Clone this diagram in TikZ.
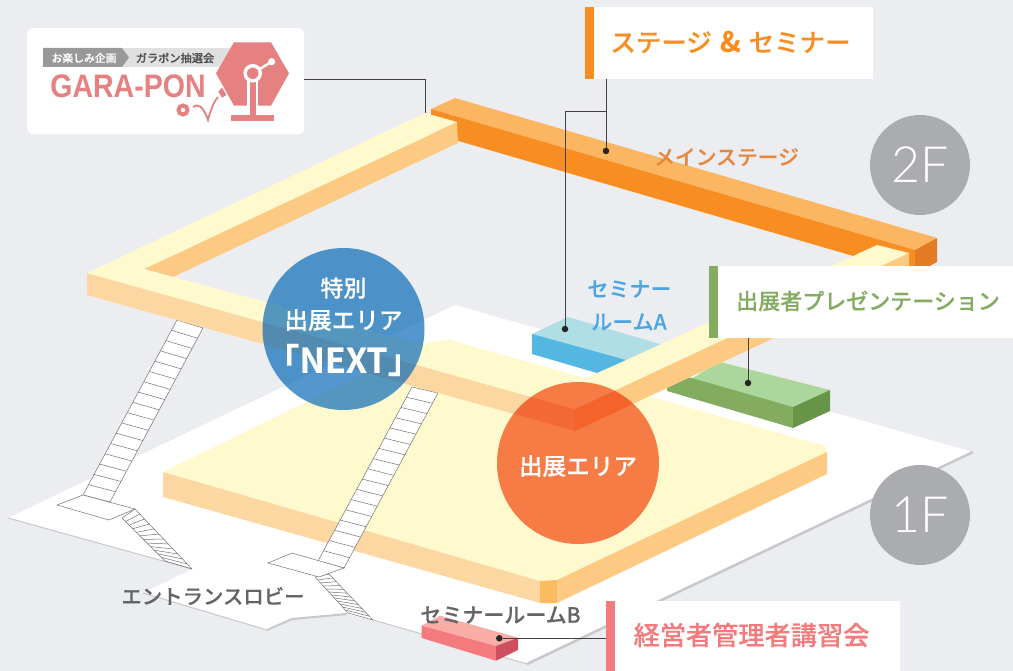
\documentclass[tikz,border=0pt]{standalone}
\usepackage{fontspec}
\setmainfont{Noto Sans CJK JP Medium}[BoldFont={Noto Sans CJK JP Bold},FakeBold=0.2]
\newfontfamily\latinfont{Liberation Sans}
\newfontfamily\thinfont{Lato Light}
\usetikzlibrary{positioning,shapes.geometric}
\definecolor{bgGray}{HTML}{ECEDF1}
\definecolor{shadowGray}{HTML}{C7C8CA}
\definecolor{floorGray}{HTML}{ABACB0}
\definecolor{creamTop}{HTML}{FFFACD}
\definecolor{sideLight}{HTML}{FDD7A1}
\definecolor{sideDark}{HTML}{FDCA83}
\definecolor{sideCorner}{HTML}{FDBB5F}
\definecolor{stageTop}{HTML}{FCB661}
\definecolor{stageFront}{HTML}{F88E21}
\definecolor{stageEnd}{HTML}{E57A25}
\definecolor{blueTop}{HTML}{B0DEE5}
\definecolor{blueFront}{HTML}{53B7E2}
\definecolor{greenTop}{HTML}{ACD79C}
\definecolor{greenFront}{HTML}{83AC60}
\definecolor{greenEnd}{HTML}{689447}
\definecolor{redTop}{HTML}{FAACA6}
\definecolor{redFront}{HTML}{F37B7D}
\definecolor{redEnd}{HTML}{CE4F60}
\definecolor{logoRed}{HTML}{E58180}
\definecolor{nextBlue}{HTML}{0065B6}
\definecolor{areaOrange}{HTML}{F67E56}
\definecolor{leaderGray}{HTML}{414042}
\definecolor{textGray}{HTML}{636466}

\begin{document}
\begin{tikzpicture}[
        x=1pt,
        y=-1pt,
        txt/.style={inner sep=0pt, font=\fontsize{#1}{#1}\selectfont},
        whitebox/.style={rectangle, fill=white, inner sep=0pt, anchor=north west},
        colorbar/.style={rectangle, fill=#1, inner sep=0pt, minimum width=9pt, anchor=north west},
        floorcircle/.style={circle, fill=floorGray, inner sep=0pt, minimum size=100pt},
        areacircle/.style={circle, fill=#1, inner sep=0pt, minimum size=162pt},
        dot/.style={circle, fill=black!85, inner sep=0pt, minimum size=6.5pt},
        leader/.style={draw=leaderGray, line width=0.9pt},
        edgeline/.style={draw=shadowGray, line width=#1},
        stairline/.style={draw=black!55, line width=0.5pt}
    ]
    \fill[bgGray] (0,0) rectangle (1013,671);
    \useasboundingbox (0,0) rectangle (1013,671);

    % floor 1F
    \fill[white] (455,305) -- (973,452) -- (527,664) -- (373,620) -- (347,614) -- (292,619) -- (267,630) -- (143,593) -- (192,569) -- (8,518) -- cycle;
    \draw[edgeline=1pt] (8,518) -- (192,569);
    \draw[edgeline=1pt] (143,593) -- (267,630);
    \draw[edgeline=2pt] (267,630) -- (292,619) -- (347,614);
    \draw[edgeline=1pt] (373,620) -- (527,664);
    \draw[edgeline=2.5pt] (527,664) -- (973,452);

    % rooms
    \fill[greenTop] (689,380) -- (720,362) -- (830,390) -- (793,407) -- cycle;
    \fill[greenFront] (667,371) -- (793,407) -- (793,428) -- (667,391) -- cycle;
    \fill[greenEnd] (793,407) -- (830,390) -- (830,411) -- (793,428) -- cycle;
    \fill[blueTop] (532,334) -- (568,317) -- (680,350) -- (626,375) -- cycle;
    \fill[blueFront] (532,334) -- (626,360) -- (597,373) -- (532,354) -- cycle;
    \fill[redTop] (421.7,625.7) -- (440,615.7) -- (518,637.7) -- (496,646) -- cycle;
    \fill[redFront] (421.7,625.7) -- (496,646) -- (496,660.7) -- (421.7,638) -- cycle;
    \fill[redEnd] (496,646) -- (518,637.7) -- (518,650) -- (496,660.7) -- cycle;

    % exhibition platform
    \fill[creamTop] (163,472) -- (430,342) -- (450,340) -- (825,446) -- (827,452) -- (557,580) -- (540,581) -- cycle;
    \fill[sideLight] (163,472) -- (540,581) -- (540,603) -- (163,497) -- cycle;
    \fill[sideDark] (557,580) -- (827,452) -- (827,474) -- (557,603) -- cycle;
    \fill[sideCorner] (540,581) -- (557,580) -- (557,603) -- (540,603) -- cycle;

    % stairs
    \foreach \xa/\ya/\xb/\yb/\xc/\yc/\xd/\yd in {177/320/203/328/83/495/110/502, 412/387/438/393/318/561/344/568} {
        \fill[white] (\xa,\ya) -- (\xb,\yb) -- (\xd,\yd) -- (\xc,\yc) -- cycle;
        \draw[stairline] (\xa,\ya) -- (\xc,\yc) (\xb,\yb) -- (\xd,\yd);
        \foreach \t in {0,0.0588,...,1.01} {
            \draw[stairline] ({\xa+\t*(\xc-\xa)},{\ya+\t*(\yc-\ya)}) -- ({\xb+\t*(\xd-\xb)},{\yb+\t*(\yd-\yb)});
        }
    }
    \foreach \xa/\ya/\xb/\yb/\xc/\yc/\xd/\yd in {122/518/135/509/165/561/192/569, 315/577/329/574/348/613/373/620} {
        \draw[stairline] (\xa,\ya) -- (\xc,\yc) (\xb,\yb) -- (\xd,\yd);
        \foreach \t in {0,0.0833,...,1.01} {
            \draw[stairline] ({\xa+\t*(\xc-\xa)},{\ya+\t*(\yc-\ya)}) -- ({\xb+\t*(\xd-\xb)},{\yb+\t*(\yd-\yb)});
        }
    }
    \filldraw[stairline, fill=white] (83,495) -- (57,505) -- (109,520) -- (135,509) -- cycle;
    \filldraw[stairline, fill=white] (292,553) -- (268,563) -- (319,577) -- (344,568) -- cycle;

    % main stage 2F
    \fill[stageTop] (431,109) -- (455,98) -- (937,238) -- (915,250) -- cycle;
    \fill[stageFront] (431,109) -- (915,250) -- (915,274) -- (431,133) -- cycle;
    \fill[stageEnd] (915,250) -- (937,238) -- (937,262) -- (915,274) -- cycle;

    % walkway 2F
    \fill[sideDark] (144,269) -- (457,122) -- (458,143) -- (173,277) -- cycle;
    \fill[sideLight] (87,273) -- (575,409) -- (575,431) -- (87,295) -- cycle;
    \fill[sideDark] (575,409) -- (909,253) -- (909,275) -- (575,431) -- cycle;
    \fill[creamTop] (87,273) -- (425,113) -- (457,122) -- (144,269) -- (572,385) -- (877,245) -- (909,253) -- (575,409) -- cycle;

    % circles
    \node[areacircle=nextBlue, fill opacity=0.67] (nextCircle) at (343.5,329) {};
    \node[txt=23, text=white] (nextTitleA) at (343.5,288) {特別};
    \node[txt=23.6, text=white] (nextTitleB) at (343.5,320) {出展エリア};
    \node[txt=34, text=white, font=\fontsize{34}{34}\selectfont\bfseries] (nextTitleC) at (343.5,360) {「NEXT」};
    \begin{scope}[blend mode=multiply]
        \node[areacircle=areaOrange] (areaCircle) at (578,463) {};
    \end{scope}
    \node[txt=23.6, text=white] (areaTitle) at (578,466) {出展エリア};
    \node[floorcircle] (floorTwo) at (920,165) {};
    \node[txt=50, text=white, font=\fontsize{50}{50}\thinfont] at (920,165) (floorTwoText) {2F};
    \node[floorcircle] (floorOne) at (920,515) {};
    \node[txt=50, text=white, font=\fontsize{50}{50}\thinfont] at (920,515) (floorOneText) {1F};

    % plain labels
    \node[txt=20.8, text=stageEnd!90!white] (mainStageText) at (726.5,157) {メインステージ};
    \node[txt=21, text=blueFront!90!blue] (roomAUpper) at (629.5,289) {セミナー};
    \node[txt=21, text=blueFront!90!blue] (roomALower) at (629,322) {ルームA};
    \node[txt=20.4, text=textGray] (lobbyText) at (213,596) {エントランスロビー};
    \node[txt=21, text=textGray] (roomBText) at (500.5,615) {セミナールームB};

    % label boxes
    \node[whitebox, minimum width=288pt, minimum height=72pt] (stageBox) at (585,7) {};
    \node[colorbar=stageFront, minimum height=72pt] (stageBar) at (stageBox.north west) {};
    \node[txt=25.5, text=stageFront] (stageText) at (730.5,42) {ステージ\hspace{8pt}{\fontsize{28}{28}\selectfont\bfseries\&}\hspace{8pt}セミナー};
    \node[whitebox, minimum width=304pt, minimum height=72pt] (presentBox) at (709,266) {};
    \node[colorbar=greenFront, minimum height=72pt] (presentBar) at (presentBox.north west) {};
    \node[txt=22, text=greenFront] (presentText) at (868,301) {出展者プレゼンテーション};
    \node[whitebox, minimum width=294pt, minimum height=70pt] (lectureBox) at (606,601) {};
    \node[colorbar=redFront, minimum height=70pt] (lectureBar) at (lectureBox.north west) {};
    \node[txt=26.2, text=redFront] (lectureText) at (751.5,635) {経営者管理者講習会};

    % logo
    \node[whitebox, rounded corners=6pt, minimum width=277pt, minimum height=106pt] (logoBox) at (27,28) {};
    \fill[black!12] (43,48) rectangle (235,67);
    \fill[black!40] (43,48) -- (122,48) -- (129,57.5) -- (122,67) -- (43,67) -- cycle;
    \node[txt=10.8, text=white] (logoTagA) at (84,58) {お楽しみ企画};
    \node[txt=11.2, text=black!70] (logoTagB) at (175,58) {ガラポン抽選会};
    \node[txt=31, text=logoRed, font=\fontsize{31}{31}\latinfont\bfseries] (logoTitle) at (128,86) {\scalebox{0.92}[1.05]{GARA-PON}};
    \fill[logoRed] (216,73.3) -- (234,42.3) -- (271,42.3) -- (289,73.3) -- (271,105.7) -- (234,105.7) -- cycle;
    \fill[logoRed] (218.3,91.7) -- (222,87.5) -- (226.5,95) -- (222,97.7) -- cycle;
    \fill[logoRed] (231,115) rectangle (274,121);
    \draw[white, line width=2.5pt] (252.7,73.3) -- (271.7,61.7);
    \fill[white] (271.7,61.7) circle (3.6pt);
    \fill[white] (246.7,75) rectangle (258.3,105.7);
    \fill[logoRed] (249.5,72) rectangle (256,116);
    \filldraw[draw=white, fill=logoRed, line width=3.4pt] (252.7,73.3) circle (7.6pt);
    \filldraw[draw=logoRed, fill=white, line width=4pt] (183,110) circle (4.5pt);
    \draw[logoRed, line width=1.8pt] (193,107) .. controls (198,103) and (203,106) .. (208,120) .. controls (210,112) and (213,103) .. (218,97);

    % connectors
    \node[dot] (stageDot) at (606,151) {};
    \node[dot] (roomADot) at (565,329) {};
    \node[dot] (presentDot) at (748,383) {};
    \node[dot] (lectureDot) at (499.3,638.3) {};
    \coordinate (stageSplit) at (606,111);
    \coordinate (stageCorner) at (565,111);
    \coordinate (logoCorner) at (425.5,79);
    \coordinate (logoEnd) at (425.5,113);
    \draw[leader] (logoBox.east |- logoCorner) -- (logoCorner) -- (logoEnd);
    \draw[leader] (stageBox.south -| stageDot) -- (stageDot);
    \draw[leader] (stageSplit) -- (stageCorner) -- (roomADot);
    \draw[leader] (presentBox.south -| presentDot) -- (presentDot);
    \draw[leader] (lectureDot) -- (lectureBar.west |- lectureDot);
\end{tikzpicture}
\end{document}
